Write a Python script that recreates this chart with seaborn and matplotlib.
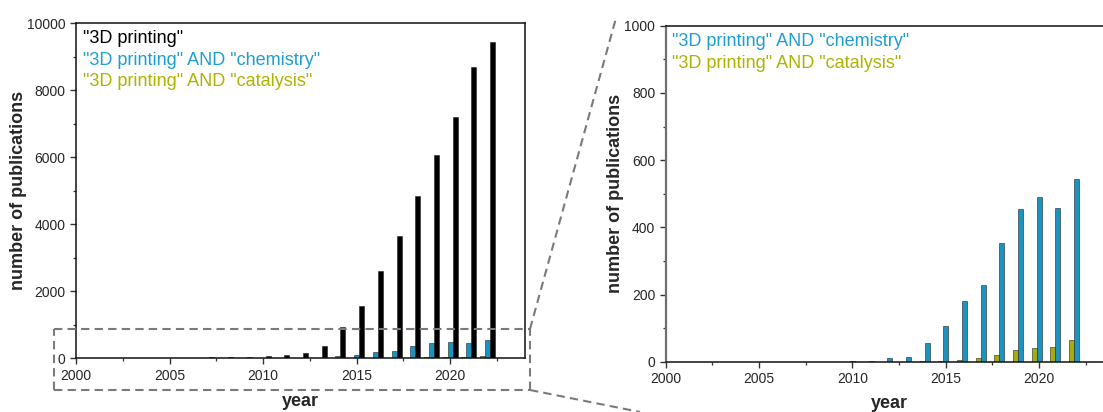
import numpy as np
import pandas as pd
import matplotlib
matplotlib.use("Agg")
import matplotlib.pyplot as plt
from matplotlib.lines import Line2D
from matplotlib.ticker import MultipleLocator
import seaborn as sns

# Publications per year (Scopus-style search counts)
years = list(range(2000, 2023))
printing = [5, 6, 8, 8, 12, 18, 20, 40, 40, 50, 65, 95, 150, 360, 925,
            1560, 2600, 3640, 4850, 6070, 7210, 8700, 9450]
chemistry = [0, 0, 0, 0, 0, 0, 0, 0, 0, 0, 1, 2, 12, 15, 55,
             107, 182, 229, 354, 454, 490, 458, 545]
catalysis = [0, 0, 0, 0, 0, 0, 0, 0, 0, 0, 0, 0, 0, 0, 1,
             2, 6, 10, 21, 34, 41, 45, 65]

series_names = ['"3D printing" AND "catalysis"',
                '"3D printing" AND "chemistry"',
                '"3D printing"']
bar_colors = ["#A8AC0B", "#1B93C0", "#000000"]
text_colors = ["#ADB300", "#1E9FD0", "#000000"]

df = pd.concat([
    pd.DataFrame({"year": years, "count": catalysis, "query": series_names[0]}),
    pd.DataFrame({"year": years, "count": chemistry, "query": series_names[1]}),
    pd.DataFrame({"year": years, "count": printing, "query": series_names[2]}),
], ignore_index=True)

sns.set_theme(style="ticks")
plt.rcParams["font.family"] = ["Liberation Sans", "DejaVu Sans"]
plt.rcParams["axes.linewidth"] = 1.1

W, H = 1103, 412
fig = plt.figure(figsize=(W / 100, H / 100), dpi=100)

ax1 = fig.add_axes([76 / W, 1 - 358.3 / H, 449 / W, 335 / H])
ax2 = fig.add_axes([665.7 / W, 1 - 361.7 / H, 448.1 / W, 336 / H])

palette = dict(zip(series_names, bar_colors))

sns.barplot(data=df, x="year", y="count", hue="query", hue_order=series_names,
            palette=palette, native_scale=True, width=0.8, dodge=True,
            saturation=1, errorbar=None, legend=False, ax=ax1,
            edgecolor="#222222", linewidth=0.4)

df_zoom = df[df["query"] != series_names[2]]
sns.barplot(data=df_zoom, x="year", y="count", hue="query", hue_order=series_names,
            palette=palette, native_scale=True, width=0.8, dodge=True,
            saturation=1, errorbar=None, legend=False, ax=ax2,
            edgecolor="#222222", linewidth=0.4)


def style_axis(ax, ymax, major, minor):
    ax.set_xlim(2000, 2024)
    ax.set_ylim(0, ymax)
    ax.xaxis.set_major_locator(MultipleLocator(5))
    ax.xaxis.set_minor_locator(MultipleLocator(2.5))
    ax.yaxis.set_major_locator(MultipleLocator(major))
    ax.yaxis.set_minor_locator(MultipleLocator(minor))
    ax.tick_params(axis="both", which="major", direction="out", length=4,
                   width=1.0, labelsize=10, color="#333333", pad=3.5)
    ax.tick_params(axis="both", which="minor", direction="out", length=2.5,
                   width=0.9, color="#333333")
    ax.set_xlabel("year", fontsize=13, fontweight="bold")
    ax.set_ylabel("number of publications", fontsize=13, fontweight="bold")
    ax.xaxis.label.set_va("center")
    ax.yaxis.label.set_va("center")
    ax.set_facecolor("white")


style_axis(ax1, 10000, 2000, 1000)
style_axis(ax2, 1000, 200, 100)

for sp in ax1.spines.values():
    sp.set_color("#111111")
    sp.set_visible(True)
ax2.spines["left"].set_color("#6e6e6e")
ax2.spines["left"].set_linewidth(1.6)
ax2.spines["top"].set_color("#111111")
ax2.spines["bottom"].set_color("#111111")
ax2.spines["top"].set_visible(True)

ax1.yaxis.set_label_coords(-0.129, 0.5)
ax1.xaxis.set_label_coords(0.5, -0.13)
ax2.yaxis.set_label_coords(-0.111, 0.5)
ax2.xaxis.set_label_coords(0.5, -0.123)

# Text legends
for i, y in zip([2, 1, 0], [0.955, 0.890, 0.826]):
    ax1.text(0.015, y, series_names[i], transform=ax1.transAxes, color=text_colors[i],
             fontsize=13, ha="left", va="center")
for i, y in zip([1, 0], [0.952, 0.888]):
    ax2.text(0.0134, y, series_names[i], transform=ax2.transAxes, color=text_colors[i],
             fontsize=13, ha="left", va="center")

# Zoom indicator: dashed box around the low range and connectors to the inset panel
dash = dict(color="#7a7a7a", linewidth=1.5, linestyle=(0, (4, 2.5)),
            transform=fig.transFigure)
x0, x1 = 54 / W, 530 / W
yt, yb = 1 - 329 / H, 1 - 390 / H
fig.add_artist(Line2D([x0, x1], [yt, yt], **dash))
fig.add_artist(Line2D([x0, x1], [yb, yb], **dash))
fig.add_artist(Line2D([x0, x0], [yb, yt], **dash))
fig.add_artist(Line2D([x1, x1], [yb, yt], **dash))
fig.add_artist(Line2D([x1, 616 / W], [yt, 1 - 18 / H], **dash))
fig.add_artist(Line2D([x1, 640 / W], [yb, 0.0], **dash))

fig.savefig("out.png", dpi=100, facecolor="white")
